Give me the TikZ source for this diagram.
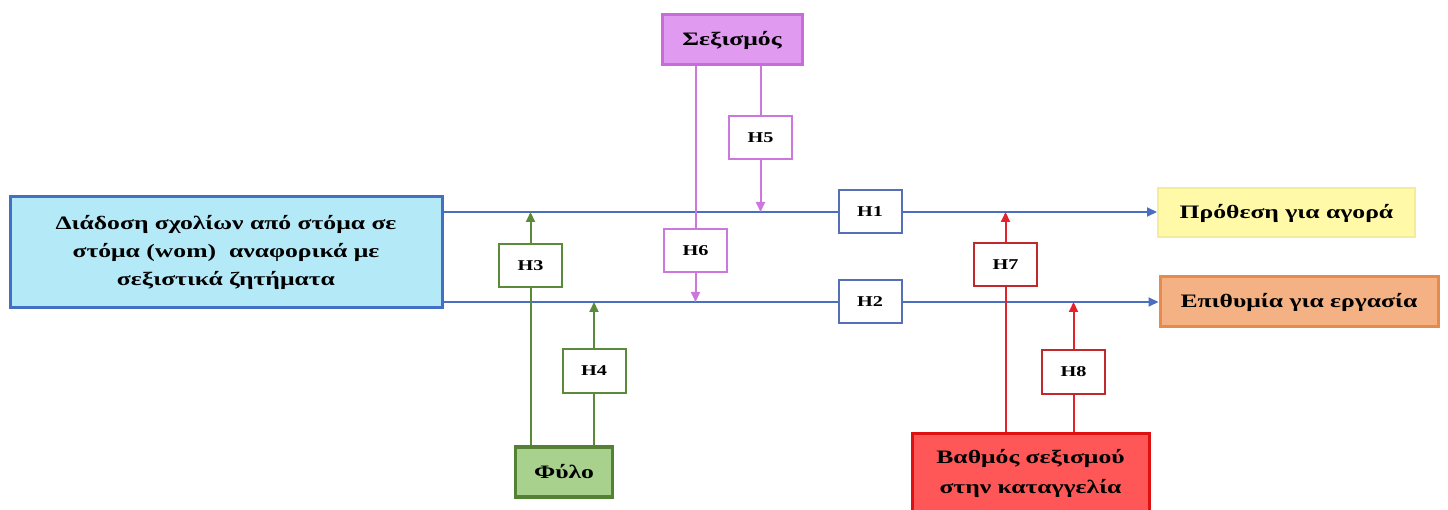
\documentclass[tikz,border=0pt]{standalone}
\usepackage{fontspec}
\setmainfont[FakeStretch=1.35]{Liberation Serif}
\usetikzlibrary{arrows.meta}
\definecolor{bl}{HTML}{4A6FC0}
\definecolor{blbox}{HTML}{4470C4}
\definecolor{blfill}{HTML}{B4EAF8}
\definecolor{hbl}{HTML}{5570B5}
\definecolor{pk}{HTML}{CC77DD}
\definecolor{pkfill}{HTML}{E09BF0}
\definecolor{pkbor}{HTML}{C76DD9}
\definecolor{gr}{HTML}{5A8A3A}
\definecolor{grfill}{HTML}{A9D18E}
\definecolor{grbor}{HTML}{548235}
\definecolor{rd}{HTML}{E3232B}
\definecolor{rdbox}{HTML}{C0282D}
\definecolor{rdfill}{HTML}{FF5757}
\definecolor{rdbor}{HTML}{E01010}
\definecolor{yfill}{HTML}{FFF9A8}
\definecolor{ybor}{HTML}{F5EC9A}
\definecolor{ofill}{HTML}{F4B183}
\definecolor{obor}{HTML}{E68A4E}
\tikzset{
  hbox/.style={draw, fill=white, line width=2pt, minimum width=#1, minimum height=43pt, inner sep=0pt, font=\fontsize{15}{17}\selectfont\bfseries},
  hbox/.default=63pt,
  bigbox/.style={inner sep=0pt, font=\fontsize{19}{28}\selectfont\bfseries, align=center},
  conn/.style={line width=2pt},
  tip/.style={-{Triangle[width=9pt,length=10pt]}},
}
\begin{document}
\begin{tikzpicture}[x=1pt,y=-1pt]
\useasboundingbox (0,0) rectangle (1448,510);
% nodes
\node[bigbox, draw=blbox, fill=blfill, line width=3pt, minimum width=432pt, minimum height=111pt] (main) at (226,252.5) {Διάδοση σχολίων από στόμα σε\\στόμα (wom)\ \ αναφορικά με\\σεξιστικά ζητήματα};
\node[bigbox, draw=ybor, fill=yfill, line width=2pt, minimum width=257pt, minimum height=49pt] (pur) at (1286.5,213) {Πρόθεση για αγορά};
\node[bigbox, draw=obor, fill=ofill, line width=3pt, minimum width=278pt, minimum height=50pt] (job) at (1299,302) {Επιθυμία για εργασία};
\node[bigbox, draw=pkbor, fill=pkfill, line width=3pt, minimum width=140pt, minimum height=50pt] (sex) at (732,40) {Σεξισμός};
\node[bigbox, draw=grbor, fill=grfill, line width=3.5pt, minimum width=97pt, minimum height=50pt] (gen) at (564,472) {Φύλο};
\node[bigbox, font=\fontsize{19}{30}\selectfont\bfseries, draw=rdbor, fill=rdfill, line width=3pt, minimum width=237pt, minimum height=80pt] (deg) at (1030.5,473) {Βαθμός σεξισμού\\στην καταγγελία};
\node[hbox, draw=hbl] (H1) at (870,212) {H1};
\node[hbox, draw=hbl] (H2) at (870,302) {H2};
\node[hbox, draw=gr] (H3) at (530.5,265.5) {H3};
\node[hbox, draw=gr] (H4) at (594,371) {H4};
\node[hbox, draw=pk] (H5) at (760.5,137.5) {H5};
\node[hbox, draw=pk] (H6) at (695.5,250.5) {H6};
\node[hbox, draw=rdbox] (H7) at (1005.5,264.5) {H7};
\node[hbox, draw=rdbox] (H8) at (1073.5,372) {H8};
% coordinates on the two main lines
\coordinate (l1) at (0,212);
\coordinate (l2) at (0,302);
% blue connectors
\draw[conn, bl] (main.east |- l1) -- (H1.west);
\draw[conn, bl, tip] (H1.east) -- (pur.west |- l1);
\draw[conn, bl] (main.east |- l2) -- (H2.west);
\draw[conn, bl, tip] (H2.east) -- (job.west |- l2);
% pink
\draw[conn, pk] (sex.south -| H6) -- (H6.north);
\draw[conn, pk, tip] (H6.south) -- (H6 |- l2);
\draw[conn, pk] (sex.south -| H5) -- (H5.north);
\draw[conn, pk, tip] (H5.south) -- (H5 |- l1);
% green
\draw[conn, gr] (gen.north -| H3) -- (H3.south);
\draw[conn, gr, tip] (H3.north) -- (H3 |- l1);
\draw[conn, gr] (gen.north -| H4) -- (H4.south);
\draw[conn, gr, tip] (H4.north) -- (H4 |- l2);
% red
\draw[conn, rd] (deg.north -| H7) -- (H7.south);
\draw[conn, rd, tip] (H7.north) -- (H7 |- l1);
\draw[conn, rd] (deg.north -| H8) -- (H8.south);
\draw[conn, rd, tip] (H8.north) -- (H8 |- l2);
\end{tikzpicture}
\end{document}
